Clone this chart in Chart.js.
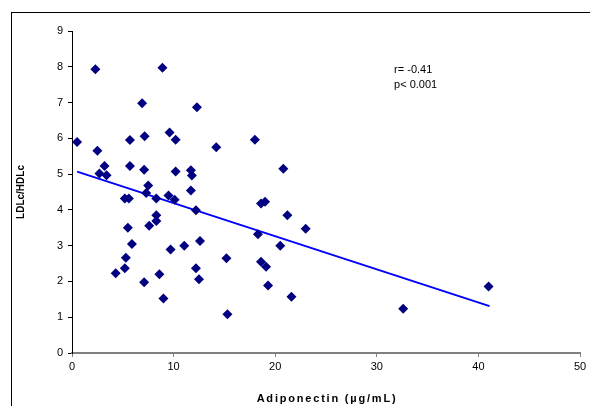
<!DOCTYPE html>
<html lang="en">
<head>
    <meta charset="UTF-8">
    <title>LDLc/HDLc vs Adiponectin</title>
    <script src="https://cdn.jsdelivr.net/npm/chart.js@4.4.0/dist/chart.umd.min.js"></script>
    <style>
        html, body { margin: 0; padding: 0; background: #fff; }
        #wrap { width: 590px; height: 406px; position: relative; }
    </style>
</head>
<body>
<div id="wrap"><canvas id="scatterChart"></canvas></div>

<script>
// Data
const adiponectin = [0.5, 2.3, 2.5, 2.7, 3.2, 3.4, 4.3, 5.2, 5.3, 5.5,
    5.9, 5.2, 5.6, 5.7, 5.7, 6.9, 7.1, 7.15, 7.1, 7.6,
    7.5, 7.3, 8.3, 8.3, 8.3, 8.6, 8.9, 9.0, 9.5, 9.6,
    9.7, 10.1, 10.2, 10.2, 11.05, 11.7, 11.8, 11.7, 12.2, 12.2,
    12.5, 12.6, 12.3, 14.2, 15.2, 15.3, 18.0, 18.3, 18.6, 19.1,
    18.6, 19.0, 19.3, 20.5, 20.8, 21.2, 21.6, 23.0, 32.6, 41.0];
const ldlHdl = [5.90, 7.93, 5.65, 5.02, 5.23, 4.97, 2.23, 2.37, 2.66, 3.50,
    3.05, 4.32, 4.32, 5.95, 5.23, 6.98, 5.12, 6.06, 1.98, 3.56,
    4.68, 4.47, 4.32, 3.69, 3.85, 2.20, 7.97, 1.52, 4.40, 6.16,
    2.89, 4.28, 5.96, 5.07, 3.00, 5.11, 4.96, 4.54, 3.99, 2.37,
    2.06, 3.13, 6.87, 5.75, 2.65, 1.08, 5.96, 3.32, 2.55, 2.41,
    4.18, 4.23, 1.89, 3.00, 5.15, 3.85, 1.57, 3.47, 1.24, 1.86];

// regression line end points
const fitX = [0.5, 41.1];
const fitY = [5.07, 1.31];

const statsText = ['r= -0.41', 'p< 0.001'];
const xTitle = 'Adiponectin (µg/mL)';

const points = adiponectin.map((x, i) => ({ x: x, y: ldlHdl[i] }));
const fitLine = fitX.map((x, i) => ({ x: x, y: fitY[i] }));

// outer frame, x title (letter spaced) and r / p text
const extras = {
    id: 'extras',
    beforeDraw(chart) {
        const ctx = chart.ctx;
        ctx.save();
        ctx.fillStyle = '#fff';
        ctx.fillRect(0, 0, chart.width, chart.height);
        ctx.strokeStyle = '#000';
        ctx.lineWidth = 1;
        ctx.strokeRect(11.5, 12.5, 620, 430);
        ctx.restore();
    },
    afterDraw(chart) {
        const ctx = chart.ctx;
        const xs = chart.scales.x, ys = chart.scales.y;
        ctx.save();
        ctx.fillStyle = '#000';
        ctx.font = '11px "Liberation Sans", Arial, sans-serif';
        ctx.textBaseline = 'middle';
        ctx.fillText(statsText[0], xs.getPixelForValue(31.7), ys.getPixelForValue(7.9));
        ctx.fillText(statsText[1], xs.getPixelForValue(31.7), ys.getPixelForValue(7.5));

        ctx.font = 'bold 11px "Liberation Sans", Arial, sans-serif';
        ctx.letterSpacing = '1.8px';
        ctx.textAlign = 'center';
        const cx = (chart.chartArea.left + chart.chartArea.right) / 2;
        ctx.fillText(xTitle, cx + 1, 399);
        ctx.restore();
    }
};

const ctx = document.getElementById('scatterChart').getContext('2d');
new Chart(ctx, {
    type: 'scatter',
    data: {
        datasets: [{
            label: 'LDLc/HDLc',
            data: points,
            pointStyle: 'rectRot',
            pointRadius: 5,
            pointBackgroundColor: '#000080',
            pointBorderColor: '#000080',
            pointBorderWidth: 0
        }, {
            label: 'fit',
            data: fitLine,
            showLine: true,
            borderColor: '#0000ff',
            borderWidth: 2,
            pointRadius: 0
        }]
    },
    options: {
        responsive: true,
        maintainAspectRatio: false,
        animation: false,
        layout: { padding: { left: 0, right: 10, top: 31, bottom: 0 } },
        plugins: {
            legend: { display: false },
            tooltip: { enabled: false }
        },
        scales: {
            x: {
                type: 'linear',
                min: 0, max: 50,
                afterFit: scale => { scale.height = 53; },
                ticks: {
                    stepSize: 10,
                    color: '#000',
                    padding: 3,
                    font: { family: '"Liberation Sans", Arial, sans-serif', size: 11 }
                },
                grid: { drawOnChartArea: false, tickLength: 4, color: '#808080' },
                border: { color: '#808080', width: 2 }
            },
            y: {
                min: 0, max: 9,
                afterFit: scale => { scale.width = 72; },
                ticks: {
                    stepSize: 1,
                    color: '#000',
                    padding: 5,
                    font: { family: '"Liberation Sans", Arial, sans-serif', size: 11 }
                },
                grid: { drawOnChartArea: false, tickLength: 4, color: '#000' },
                border: { color: '#000', width: 1 },
                title: {
                    display: true,
                    text: 'LDLc/HDLc',
                    color: '#000',
                    padding: { top: 15, bottom: 0 },
                    font: { family: '"Liberation Sans", Arial, sans-serif', size: 10, weight: 'bold' }
                }
            }
        }
    },
    plugins: [extras]
});
</script>
</body>
</html>
